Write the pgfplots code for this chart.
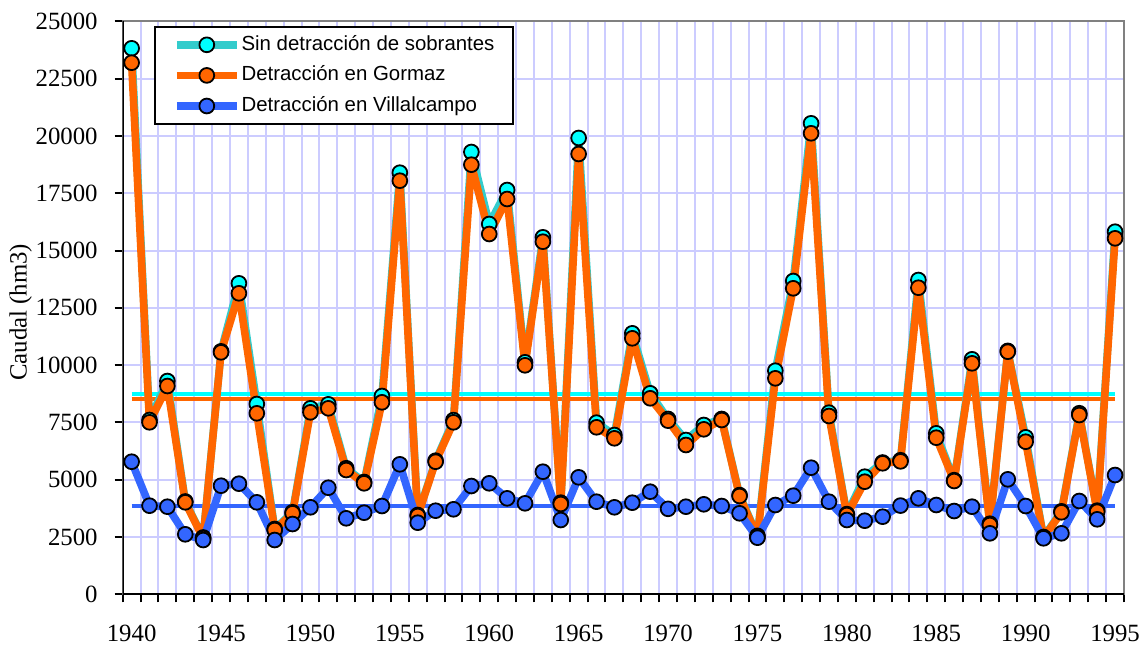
\documentclass[border=0pt]{standalone}
\usepackage{fontspec}
\setmainfont{Liberation Serif}
\newfontfamily\arial{Liberation Sans}
\usepackage{pgfplots}
\usepackage{pgfplotstable}
\pgfplotsset{compat=1.18}
\definecolor{gridc}{RGB}{204,204,255}
\definecolor{cyanl}{RGB}{51,204,204}
\definecolor{cyanm}{RGB}{0,255,255}
\definecolor{orng}{RGB}{255,102,0}
\definecolor{blu}{RGB}{51,102,255}

\pgfplotstableread{
year sin gor vil
1940 23822 23194 5785
1941 7605 7504 3866
1942 9306 9088 3822
1943 4050 4014 2618
1944 2480 2450 2369
1945 10600 10558 4738
1946 13569 13133 4826
1947 8303 7897 4014
1948 2850 2805 2369
1949 3580 3534 3067
1950 8115 7941 3796
1951 8290 8115 4651
1952 5500 5423 3316
1953 4900 4843 3560
1954 8652 8377 3852
1955 18395 18046 5672
1956 3460 3416 3124
1957 5830 5785 3648
1958 7600 7504 3709
1959 19298 18745 4725
1960 16157 15720 4843
1961 17640 17247 4188
1962 10122 9991 3970
1963 15576 15384 5349
1964 4000 3940 3242
1965 19909 19211 5105
1966 7490 7286 4040
1967 6950 6806 3796
1968 11387 11169 3997
1969 8770 8552 4477
1970 7650 7575 3730
1971 6732 6514 3822
1972 7387 7199 3927
1973 7650 7605 3852
1974 4330 4289 3534
1975 2550 2500 2470
1976 9756 9424 3896
1977 13670 13351 4302
1978 20550 20114 5524
1979 7923 7780 4040
1980 3500 3460 3242
1981 5131 4913 3211
1982 5750 5716 3386
1983 5850 5800 3870
1984 13713 13377 4188
1985 7024 6833 3896
1986 4980 4943 3634
1987 10253 10078 3822
1988 3080 3023 2661
1989 10620 10585 5017
1990 6850 6658 3852
1991 2500 2470 2443
1992 3620 3578 2661
1993 7900 7823 4071
1994 3650 3604 3272
1995 15820 15532 5205
}\datatab

\begin{document}
\begin{tikzpicture}
\begin{axis}[
  at={(0,0)}, anchor=south west,
  scale only axis, width=500.65pt, height=286.5pt,
  xmin=1939.5, xmax=1995.5, ymin=0, ymax=25000,
  xtick={1940,1945,...,1995},
  minor xtick={1939.5,1940.5,...,1995.5},
  ytick={0,2500,...,25000},
  major x tick style={draw=none},
  xminorgrids=true, ymajorgrids=true, xmajorgrids=false,
  grid style={gridc, line width=1pt},
  minor grid style={gridc, line width=1pt},
  tick align=outside, tick pos=left,
  major tick length=4pt, minor tick length=4pt,
  tick style={black, line width=1pt},
  axis line style={draw=gray, line width=1pt},
  scaled y ticks=false,
  /pgf/number format/1000 sep={},
  /pgf/number format/assume math mode=true,
  tick label style={font=\fontsize{12.4}{14}\selectfont},
  xticklabel style={yshift=-7.8pt},
  yticklabel style={xshift=-5pt},
  ylabel={Caudal (hm3)},
  ylabel style={font=\fontsize{12.4}{14}\selectfont, at={(axis description cs:-0.1019,0.492)}, anchor=center},
  legend style={at={(rel axis cs:0,1)}, anchor=north west, xshift=15.65pt, yshift=-2.35pt,
    draw=black, line width=1pt, fill=white, inner xsep=9pt, inner ysep=2pt,
    font=\arial\fontsize{10.2}{12}\selectfont,
    cells={anchor=west}, row sep=1.5pt,
    nodes={text height=7.5pt, text depth=2.3pt, inner ysep=2pt, inner xsep=0.5pt}},
  legend image code/.code={\draw[mark repeat=2,mark phase=2] plot coordinates {(0pt,0pt) (15pt,0pt) (30pt,0pt)};},
  legend cell align=left,
  mark size=3.7pt,
]
% mean lines
\addplot[forget plot, cyanm, line width=2pt] coordinates {(1940,8726) (1995,8726)};
\addplot[forget plot, orng, line width=2pt] coordinates {(1940,8534) (1995,8534)};
\addplot[forget plot, blu, line width=2pt] coordinates {(1940,3853) (1995,3853)};
% series
\addplot[cyanl, line width=3.8pt, line join=round, mark=*, mark options={solid, fill=cyanm, draw=black, line width=0.9pt}] table[x=year, y=sin] {\datatab};
\addlegendentry{Sin detracción de sobrantes}
\addplot[orng, line width=3.8pt, line join=round, mark=*, mark options={solid, fill=orng, draw=black, line width=0.9pt}] table[x=year, y=gor] {\datatab};
\addlegendentry{Detracción en Gormaz}
\addplot[blu, line width=3.8pt, line join=round, mark=*, mark options={solid, fill=blu, draw=black, line width=0.9pt}] table[x=year, y=vil] {\datatab};
\addlegendentry{Detracción en Villalcampo}
\draw[black, line width=1pt] (rel axis cs:0,1) -- (rel axis cs:0,0) -- (rel axis cs:1,0);
\end{axis}
\pgfresetboundingbox
\useasboundingbox (-61.35pt,-24.85pt) rectangle (510.65pt,297.15pt);
\end{tikzpicture}
\end{document}
